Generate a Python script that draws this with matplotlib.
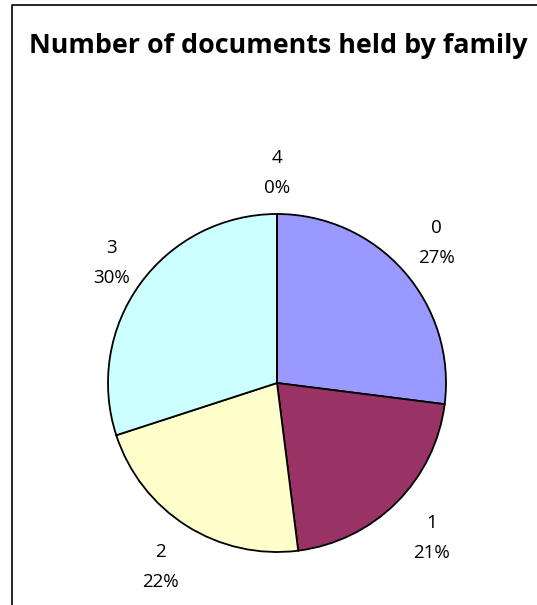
import matplotlib
matplotlib.use("Agg")
import matplotlib.pyplot as plt
from matplotlib.lines import Line2D

# documents held per family, share in percent
categories = ["0", "1", "2", "3", "4"]
shares = [27, 21, 22, 30, 0]
colors = ["#9999FF", "#993366", "#FFFFCC", "#CCFFFF", "#FFFFFF"]

W, H = 537, 605
fig = plt.figure(figsize=(W / 100, H / 100), dpi=100)
fig.patch.set_facecolor("white")

# pie axes: centre (277, 383) px, radius 169 px
cx, cy, r = 277, 383, 169
ax = fig.add_axes([(cx - r) / W, (H - cy - r) / H, 2 * r / W, 2 * r / H])

labels = [f"{c}\n{s}%" for c, s in zip(categories, shares)]
wedges, texts = ax.pie(shares, labels=labels, colors=colors, startangle=90,
                       counterclock=False, radius=1, labeldistance=1.0,
                       wedgeprops=dict(edgecolor="black", linewidth=1.3),
                       textprops=dict(fontsize=13.5, family="Open Sans",
                                      linespacing=1.85))
# push each label out from the rim (in units of the radius)
label_dist = [1.255, 1.295, 1.29, 1.21, 1.24]
for t, d in zip(texts, label_dist):
    x, y = t.get_position()
    t.set_position((x * d, y * d))
    t.set_ha("center")
    t.set_va("center")
ax.set_xlim(-1, 1)
ax.set_ylim(-1, 1)
ax.set_aspect("equal")
ax.axis("off")

fig.text(278 / W, 1 - 46 / H, "Number of documents held by family",
         ha="center", va="center", fontsize=19.4, fontweight="bold",
         family="Open Sans")

# chart frame (left and top edges)
fy = 1 - 5 / H
fig.add_artist(Line2D([12 / W, 12 / W, 1], [0, fy, fy], color="black",
                      linewidth=1.2, transform=fig.transFigure))

fig.savefig("out.png", dpi=100)
